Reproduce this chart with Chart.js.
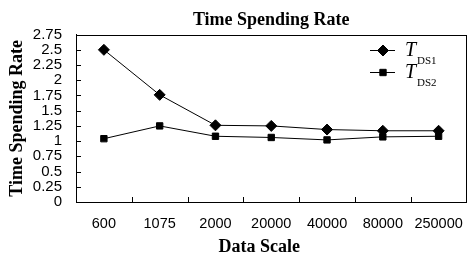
<!DOCTYPE html>
<html>
<head>
<meta charset="utf-8">
<script src="https://cdn.jsdelivr.net/npm/chart.js@4"></script>
<style>
  html, body { margin: 0; padding: 0; background: #fff; }
  #wrap { width: 473px; height: 254px; }
</style>
</head>
<body>
<div id="wrap"><canvas id="rateChart" width="473" height="254"></canvas></div>
<script>
const categories = ['600', '1075', '2000', '20000', '40000', '80000', '250000'];
const ds1Values = [2.5, 1.76, 1.26, 1.25, 1.19, 1.17, 1.17];
const ds2Values = [1.04, 1.25, 1.08, 1.06, 1.02, 1.07, 1.08];
const yTicks = [0, 0.25, 0.5, 0.75, 1, 1.25, 1.5, 1.75, 2, 2.25, 2.5, 2.75];
const seriesNames = [['T', 'DS1'], ['T', 'DS2']];
const xTitle = 'Data Scale';

// frame + inward tick marks + x title + legend with subscripts
const framePlugin = {
  id: 'frame',
  afterDraw(chart) {
    const { ctx, chartArea: a, scales } = chart;
    ctx.save();
    ctx.strokeStyle = '#000';
    ctx.lineWidth = 1;
    ctx.strokeRect(Math.round(a.left) + 0.5, Math.round(a.top) + 0.5,
      Math.round(a.right - a.left) - 1, Math.round(a.bottom - a.top));
    ctx.beginPath();
    // x ticks between categories
    const xs = scales.x;
    const half = (xs.getPixelForValue(1) - xs.getPixelForValue(0)) / 2;
    for (let i = 0; i < categories.length - 1; i++) {
      const px = Math.round(xs.getPixelForValue(i) + half) + 0.5;
      ctx.moveTo(px, a.bottom);
      ctx.lineTo(px, a.bottom - 5);
    }
    // y ticks
    yTicks.forEach(v => {
      const py = Math.round(scales.y.getPixelForValue(v)) + 0.5;
      ctx.moveTo(a.left, py);
      ctx.lineTo(a.left + 5, py);
    });
    ctx.stroke();

    // x axis title (sits a bit left of the plot centre in the original)
    ctx.fillStyle = '#000';
    ctx.textAlign = 'center';
    ctx.textBaseline = 'alphabetic';
    ctx.font = 'bold 18px "Liberation Serif"';
    ctx.fillText(xTitle, (a.left + a.right) / 2 - 12, 252);

    // legend
    ctx.textAlign = 'left';
    const styles = ['rectRot', 'rect'];
    const rows = [50, 72];
    rows.forEach((y, i) => {
      ctx.beginPath();
      ctx.moveTo(370, y + 0.5);
      ctx.lineTo(395, y + 0.5);
      ctx.stroke();
      Chart.helpers.drawPoint(ctx, { pointStyle: styles[i], radius: i ? 4.5 : 5.5, borderWidth: 1 }, 383, y + 0.5);
      ctx.font = 'italic 20px "Liberation Serif"';
      ctx.fillText(seriesNames[i][0], 405, y + 6);
      ctx.font = '11px "Liberation Serif"';
      ctx.fillText(seriesNames[i][1], 417, y + 14);
    });
    ctx.restore();
  }
};

const ctx = document.getElementById('rateChart').getContext('2d');
new Chart(ctx, {
  type: 'line',
  data: {
    labels: categories,
    datasets: [{
      data: ds1Values,
      borderColor: '#000',
      backgroundColor: '#000',
      borderWidth: 1,
      pointStyle: 'rectRot',
      pointRadius: 5.5,
      tension: 0
    }, {
      data: ds2Values,
      borderColor: '#000',
      backgroundColor: '#000',
      borderWidth: 1,
      pointStyle: 'rect',
      pointRadius: 4.5,
      tension: 0
    }]
  },
  options: {
    responsive: false,
    animation: false,
    layout: { padding: { top: 0, right: 4, left: 0, bottom: 0 } },
    plugins: {
      legend: { display: false },
      tooltip: { enabled: false },
      title: {
        display: true,
        fullSize: false,
        text: 'Time Spending Rate',
        color: '#000',
        font: { family: 'Liberation Serif', size: 18, weight: 'bold' },
        padding: { top: 10, bottom: 3 }
      }
    },
    scales: {
      x: {
        offset: true,
        afterFit: scale => { scale.height = 52; },
        grid: { display: false, offset: true },
        border: { display: true, color: '#000', width: 1 },
        ticks: {
          color: '#000',
          padding: 5,
          maxRotation: 0,
          autoSkip: false,
          font: { family: 'Liberation Sans', size: 14.5 }
        }
      },
      y: {
        min: 0,
        max: 2.75,
        afterBuildTicks: scale => { scale.ticks = yTicks.map(v => ({ value: v })); },
        afterFit: scale => { scale.width = 76; },
        grid: { display: false },
        border: { display: true, color: '#000', width: 1 },
        ticks: {
          color: '#000',
          padding: 6,
          autoSkip: false,
          callback: value => String(value),
          font: { family: 'Liberation Sans', size: 15, lineHeight: 1 }
        },
        title: {
          display: true,
          text: 'Time Spending Rate',
          color: '#000',
          padding: { top: 7, bottom: 0 },
          font: { family: 'Liberation Serif', size: 18, weight: 'bold' }
        }
      }
    }
  },
  plugins: [framePlugin]
});
</script>
</body>
</html>
